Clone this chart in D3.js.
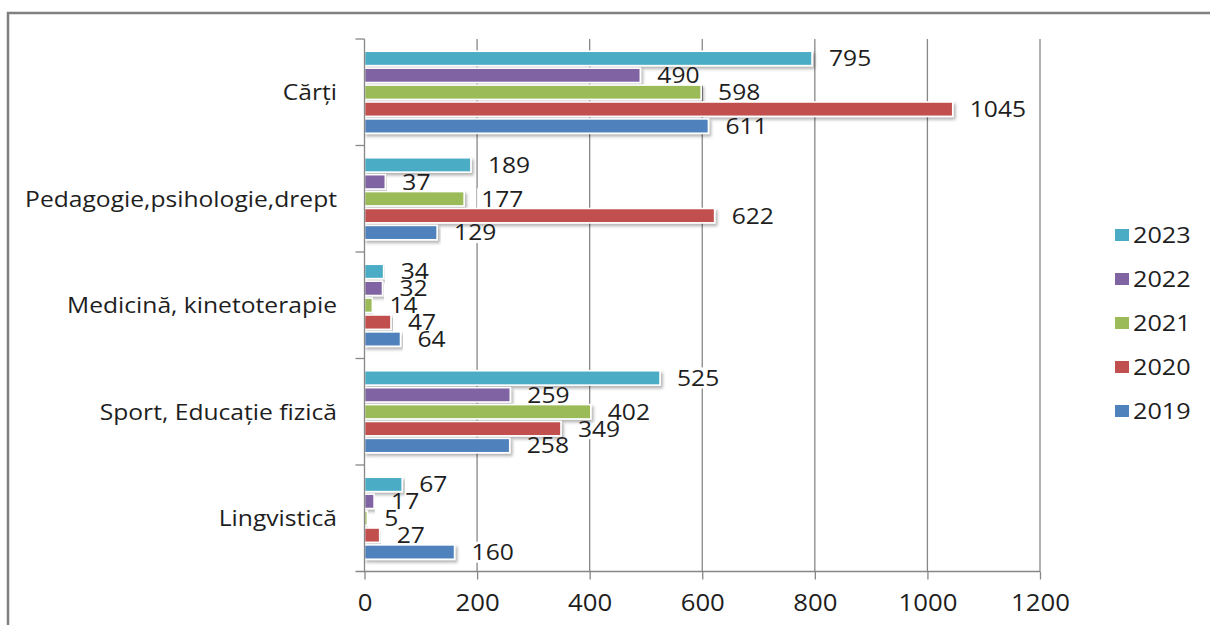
<!DOCTYPE html>
<html>
<head>
<meta charset="utf-8">
<script src="https://cdn.jsdelivr.net/npm/d3@7"></script>
<style>
  body { margin: 0; background: #fff; }
  svg text { font-family: "Open Sans", sans-serif; fill: #1e1e1e; }
</style>
</head>
<body>
<svg id="chart" width="1210" height="625"></svg>
<script>
// data
var categories = ['Cărți', 'Pedagogie,psihologie,drept', 'Medicină, kinetoterapie',
                  'Sport, Educație fizică', 'Lingvistică'];
var years = ['2023', '2022', '2021', '2020', '2019'];
var v2019 = [611, 129, 64, 258, 160];
var v2020 = [1045, 622, 47, 349, 27];
var v2021 = [598, 177, 14, 402, 5];
var v2022 = [490, 37, 32, 259, 17];
var v2023 = [795, 189, 34, 525, 67];
var xTicks = [0, 200, 400, 600, 800, 1000, 1200];

var values = { '2019': v2019, '2020': v2020, '2021': v2021, '2022': v2022, '2023': v2023 };
var colors = { '2023': '#4bacc6', '2022': '#8064a2', '2021': '#9bbb59',
               '2020': '#c0504d', '2019': '#4f81bd' };

var svg = d3.select('#chart'),
    plotLeft = 364.5, plotRight = 1040,
    plotTop = 39, plotBottom = 571.5,
    sx = 1.12,
    rows = [];

categories.forEach(function (c, i) {
    years.forEach(function (yr) {
        rows.push({ cat: c, year: yr, value: values[yr][i] });
    });
});

var x = d3.scaleLinear().domain([0, 1200]).range([plotLeft, plotRight]);
var y0 = d3.scaleBand().domain(categories).range([plotTop, plotBottom])
    .paddingInner(0.23).paddingOuter(0.115);
var y1 = d3.scaleBand().domain(years).range([0, y0.bandwidth()]).paddingInner(0.15);

var defs = svg.append('defs');
var f = defs.append('filter').attr('id', 'shadow')
    .attr('x', '-5%').attr('y', '-30%').attr('width', '110%').attr('height', '170%');
f.append('feDropShadow').attr('dx', 2).attr('dy', 2.5).attr('stdDeviation', 1.8)
    .attr('flood-color', '#000').attr('flood-opacity', 0.3);

// outer frame
svg.append('rect')
    .attr('x', 8).attr('y', 13).attr('width', 1300).attr('height', 700)
    .attr('fill', 'none').attr('stroke', '#808080').attr('stroke-width', 2.5);

// vertical gridlines
svg.append('g').selectAll('line')
    .data(xTicks.slice(1))
    .enter().append('line')
    .attr('x1', function (d) { return x(d); })
    .attr('x2', function (d) { return x(d); })
    .attr('y1', plotTop).attr('y2', plotBottom)
    .attr('stroke', '#878787').attr('stroke-width', 1.3);

// label boxes (hide gridlines behind the numbers)
var labels = svg.append('g');
rows.forEach(function (r) {
    var cy = y0(r.cat) + y1(r.year) + y1.bandwidth() / 2;
    var t = labels.append('text')
        .style('font-size', '22px')
        .text(r.value);
    r.cy = cy;
    r.w = t.node().getComputedTextLength() * sx;
    t.remove();
});
labels.selectAll('rect')
    .data(rows)
    .enter().append('rect')
    .attr('x', function (d) { return x(d.value) + 13; })
    .attr('y', function (d) { return d.cy - 10.5; })
    .attr('width', function (d) { return d.w + 8; })
    .attr('height', 21)
    .attr('fill', '#fff');

// bars
svg.append('g').selectAll('rect')
    .data(rows)
    .enter().append('rect')
    .attr('x', x(0))
    .attr('y', function (d) { return y0(d.cat) + y1(d.year); })
    .attr('width', function (d) { return x(d.value) - x(0); })
    .attr('height', y1.bandwidth())
    .attr('fill', function (d) { return colors[d.year]; })
    .attr('stroke', '#fff').attr('stroke-width', 1.6)
    .attr('filter', 'url(#shadow)');

// value labels
svg.append('g').selectAll('text')
    .data(rows)
    .enter().append('text')
    .attr('transform', function (d) {
        return 'translate(' + (x(d.value) + 17) + ',' + d.cy + ') scale(' + sx + ',1)';
    })
    .attr('dy', '0.36em')
    .style('font-size', '22px')
    .text(function (d) { return d.value; });

// x axis
var xAxis = svg.append('g').attr('transform', 'translate(0,' + plotBottom + ')')
    .call(d3.axisBottom(x).tickValues(xTicks).tickFormat(d3.format('d'))
        .tickSize(8).tickSizeOuter(0));
xAxis.select('.domain').remove();
xAxis.selectAll('line').attr('stroke', '#878787').attr('stroke-width', 1.3);
xAxis.selectAll('text')
    .attr('transform', 'scale(' + sx + ',1)')
    .attr('x', 0).attr('y', 31.5).attr('dy', '0.36em')
    .style('font-size', '23px').attr('fill', '#1e1e1e');
svg.append('line')
    .attr('x1', plotLeft - 9).attr('x2', plotRight)
    .attr('y1', plotBottom).attr('y2', plotBottom)
    .attr('stroke', '#878787').attr('stroke-width', 1.3);

// y axis
svg.append('line')
    .attr('x1', plotLeft).attr('x2', plotLeft)
    .attr('y1', plotTop).attr('y2', plotBottom)
    .attr('stroke', '#878787').attr('stroke-width', 1.3);
var bounds = categories.map(function (c) { return y0(c) - y0.step() * y0.paddingInner() / 2; });
bounds[0] = plotTop;
svg.append('g').selectAll('line')
    .data(bounds)
    .enter().append('line')
    .attr('x1', plotLeft - 9).attr('x2', plotLeft)
    .attr('y1', function (d) { return d; })
    .attr('y2', function (d) { return d; })
    .attr('stroke', '#878787').attr('stroke-width', 1.3);

svg.append('g').selectAll('text')
    .data(categories)
    .enter().append('text')
    .attr('transform', function (d) {
        return 'translate(337,' + (y0(d) + y0.bandwidth() / 2) + ') scale(' + sx + ',1)';
    })
    .attr('text-anchor', 'end')
    .attr('dy', '0.36em')
    .style('font-size', '22px')
    .text(function (d) { return d; });

// legend
var legend = svg.append('g').selectAll('g')
    .data(years)
    .enter().append('g')
    .attr('transform', function (d, i) { return 'translate(1115,' + (235 + i * 44) + ')'; });
legend.append('rect')
    .attr('x', 0).attr('y', -6)
    .attr('width', 14).attr('height', 12)
    .attr('fill', function (d) { return colors[d]; });
legend.append('text')
    .attr('transform', 'translate(18,0) scale(1.2,1)')
    .attr('dy', '0.36em')
    .style('font-size', '21px')
    .text(function (d) { return d; });
</script>
</body>
</html>
